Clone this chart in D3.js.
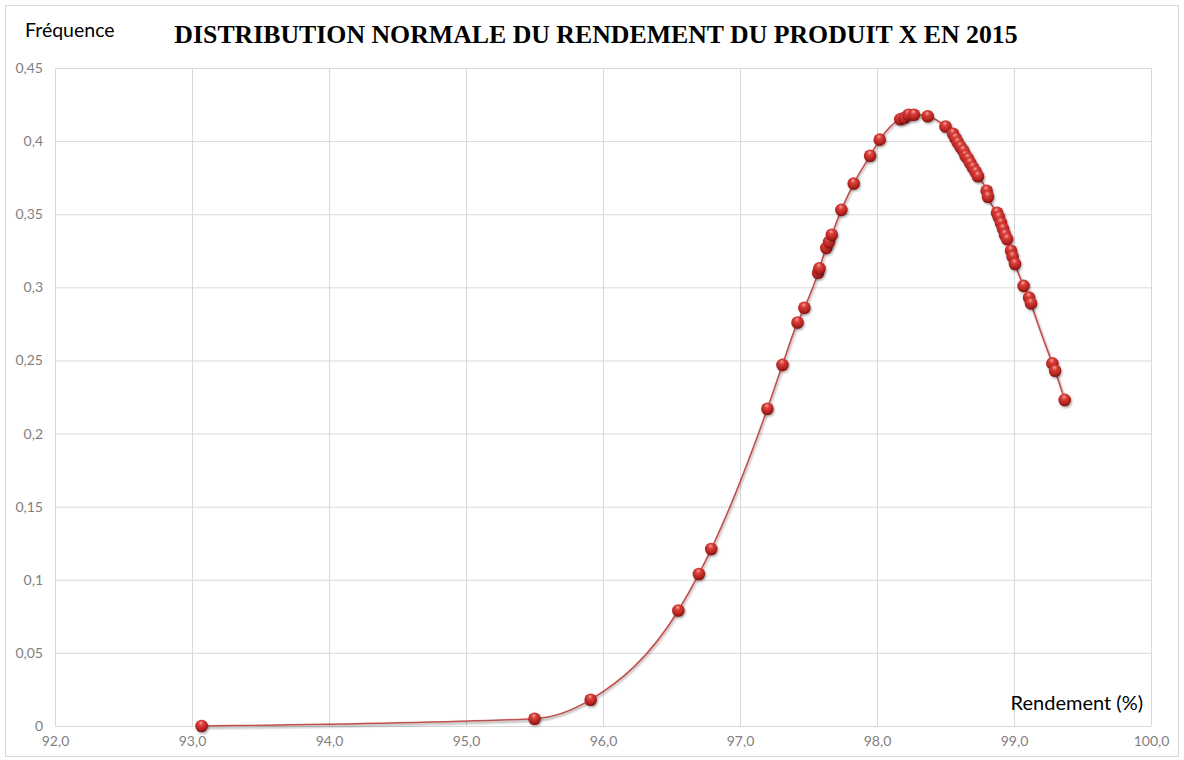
<!DOCTYPE html>
<html>
<head>
<meta charset="utf-8">
<script src="https://cdn.jsdelivr.net/npm/d3@7"></script>
<style>
  body { margin: 0; background: #fff; }
  text { font-family: Lato, "Open Sans", sans-serif; }
</style>
</head>
<body>
<div id="chart"></div>
<script>
// rendement (%)
const rendement = [
  93.07, 95.50, 95.91, 96.55, 96.70, 96.79, 97.20, 97.31, 97.42, 97.47,
  97.57, 97.58, 97.63, 97.65, 97.67, 97.74, 97.83, 97.95, 98.02,
  98.17, 98.20, 98.23, 98.27, 98.37, 98.50,
  98.555, 98.573, 98.59, 98.61, 98.63, 98.646, 98.664, 98.68, 98.70, 98.72, 98.737,
  98.80, 98.81, 98.876, 98.89, 98.905, 98.92, 98.934, 98.95,
  98.978, 98.99, 99.007, 99.07, 99.11, 99.124, 99.28, 99.30, 99.37
];
// fréquence (densité normale)
const frequence = [
  0.000, 0.005, 0.018, 0.079, 0.104, 0.121, 0.217, 0.247, 0.276, 0.286,
  0.310, 0.313, 0.327, 0.331, 0.336, 0.353, 0.371, 0.390, 0.401,
  0.415, 0.416, 0.418, 0.418, 0.417, 0.410,
  0.405, 0.402, 0.399, 0.396, 0.3935, 0.390, 0.388, 0.385, 0.382, 0.379, 0.376,
  0.366, 0.362, 0.351, 0.348, 0.344, 0.340, 0.336, 0.333,
  0.325, 0.321, 0.316, 0.301, 0.293, 0.289, 0.248, 0.243, 0.223
];
const xTicks = [92, 93, 94, 95, 96, 97, 98, 99, 100];
const yTicks = [0, 0.05, 0.1, 0.15, 0.2, 0.25, 0.3, 0.35, 0.4, 0.45];

const W = 1184, H = 760;
const margin = { top: 68, right: 33, bottom: 34, left: 55 };
const width = W - margin.left - margin.right;
const height = H - margin.top - margin.bottom;

const svg = d3.select("#chart").append("svg")
  .attr("width", W).attr("height", H);

const defs = svg.append("defs");
const grad = defs.append("radialGradient")
  .attr("id", "ball").attr("cx", "45%").attr("cy", "35%").attr("r", "65%")
  .attr("fx", "45%").attr("fy", "25%");
grad.append("stop").attr("offset", "0%").attr("stop-color", "#f6a4a0");
grad.append("stop").attr("offset", "30%").attr("stop-color", "#d9403a");
grad.append("stop").attr("offset", "75%").attr("stop-color", "#b3221f");
grad.append("stop").attr("offset", "100%").attr("stop-color", "#7c1210");

const shadow = defs.append("filter").attr("id", "shadow")
  .attr("x", "-50%").attr("y", "-50%").attr("width", "200%").attr("height", "200%");
shadow.append("feDropShadow").attr("dx", 1).attr("dy", 1.5)
  .attr("stdDeviation", 1.2).attr("flood-color", "#000").attr("flood-opacity", 0.35);

// outer frame
svg.append("rect").attr("x", 5.5).attr("y", 5.5)
  .attr("width", W - 11).attr("height", H - 9)
  .attr("fill", "none").attr("stroke", "#d9d9d9");

const g = svg.append("g")
  .attr("transform", "translate(" + margin.left + "," + margin.top + ")");

const x = d3.scaleLinear().domain([92, 100]).range([0, width]);
const y = d3.scaleLinear().domain([0, 0.45]).range([height, 0]);

const fmtY = d => d3.format("~g")(d).replace(".", ",");
const fmtX = d => d3.format(".1f")(d).replace(".", ",");

// Y gridlines + labels
const yAxis = g.append("g")
  .call(d3.axisLeft(y).tickValues(yTicks).tickSize(-width).tickPadding(12).tickFormat(fmtY));
yAxis.select(".domain").remove();
yAxis.selectAll("line").attr("stroke", "#d9d9d9");
yAxis.selectAll("text").attr("fill", "#7f7f7f").style("font-size", "14px")
  .style("font-family", "Lato, sans-serif");

// X gridlines + labels
const xAxis = g.append("g")
  .attr("transform", `translate(0, ${height})`)
  .call(d3.axisBottom(x).tickValues(xTicks).tickSize(-height).tickPadding(10).tickFormat(fmtX));
xAxis.select(".domain").remove();
xAxis.selectAll("line").attr("stroke", "#d9d9d9");
xAxis.selectAll("text").attr("fill", "#7f7f7f").style("font-size", "14px")
  .style("font-family", "Lato, sans-serif");

const data = rendement.map((r, i) => ({ r: r, f: frequence[i] }));

const line = d3.line()
  .x(d => x(d.r))
  .y(d => y(d.f))
  .curve(d3.curveMonotoneX);

// soft shadow under the curve
const area = d3.area()
  .x(d => x(d.r))
  .y0(d => y(d.f) + 4)
  .y1(d => y(d.f))
  .curve(d3.curveMonotoneX);
g.append("path")
  .datum(data.slice(0, 3))
  .attr("d", area)
  .attr("fill", "#000")
  .attr("opacity", 0.06);

g.append("path")
  .datum(data)
  .attr("d", line)
  .attr("fill", "none")
  .attr("stroke", "#c0504d")
  .attr("stroke-width", 1.6)
  .attr("filter", "url(#shadow)");

g.selectAll("circle.pt")
  .data(data)
  .join("circle")
  .attr("class", "pt")
  .attr("cx", d => x(d.r))
  .attr("cy", d => y(d.f))
  .attr("r", 6.3)
  .attr("fill", "url(#ball)")
  .attr("filter", "url(#shadow)");

// texts
svg.append("text")
  .attr("x", 596).attr("y", 43)
  .attr("text-anchor", "middle")
  .style("font-family", "'Liberation Serif', 'Times New Roman', serif")
  .style("font-weight", "bold")
  .style("font-size", "25.8px")
  .attr("fill", "#000")
  .text("DISTRIBUTION NORMALE DU RENDEMENT DU PRODUIT X EN 2015");

svg.append("text")
  .attr("x", 25).attr("y", 37)
  .style("font-size", "19.5px")
  .attr("fill", "#000")
  .text("Fréquence");

svg.append("text")
  .attr("x", 1143).attr("y", 710)
  .attr("text-anchor", "end")
  .style("font-size", "20px")
  .attr("fill", "#000")
  .text("Rendement (%)");
</script>
</body>
</html>
